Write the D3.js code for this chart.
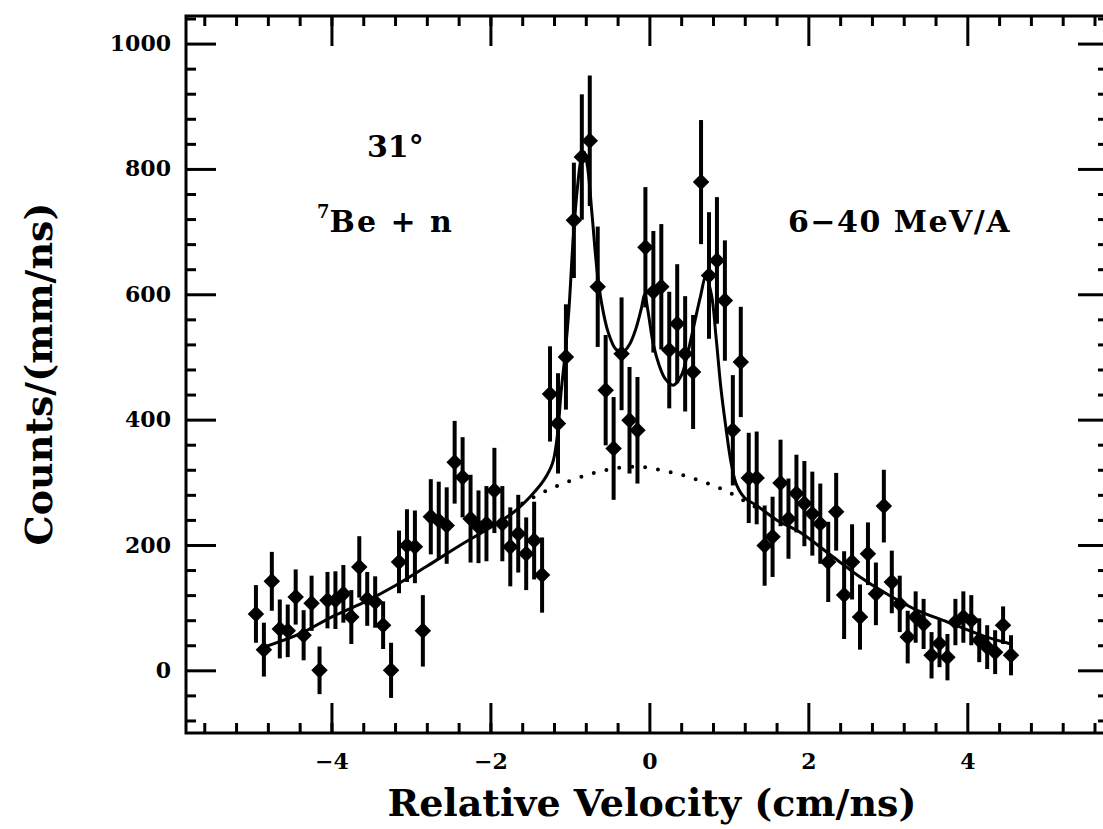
<!DOCTYPE html>
<html lang="en">
  <head>
    <meta charset="UTF-8" />
    <title>7Be + n relative velocity spectrum</title>
    <script src="https://d3js.org/d3.v7.min.js"></script>
    <style>
      body {
        margin: 0;
        background: #fff;
      }
      svg text {
        font-family: 'DejaVu Serif', serif;
        font-weight: bold;
        fill: #000;
      }
    </style>
  </head>
  <body>
    <div id="chart"></div>

    <script>
      // measured points (cm/ns, counts per mm/ns, error)
      const velocity = [
        -4.95, -4.85, -4.75, -4.65, -4.55, -4.45, -4.35, -4.25, -4.15, -4.05,
        -3.95, -3.85, -3.75, -3.65, -3.55, -3.45, -3.35, -3.25, -3.15, -3.05,
        -2.95, -2.85, -2.75, -2.65, -2.55, -2.45, -2.35, -2.25, -2.15, -2.05,
        -1.95, -1.85, -1.75, -1.65, -1.55, -1.45, -1.35, -1.25, -1.15, -1.05,
        -0.95, -0.85, -0.75, -0.65, -0.55, -0.45, -0.35, -0.25, -0.15, -0.05,
        0.05, 0.15, 0.25, 0.35, 0.45, 0.55, 0.65, 0.75, 0.85, 0.95,
        1.05, 1.15, 1.25, 1.35, 1.45, 1.55, 1.65, 1.75, 1.85, 1.95,
        2.05, 2.15, 2.25, 2.35, 2.45, 2.55, 2.65, 2.75, 2.85, 2.95,
        3.05, 3.15, 3.25, 3.35, 3.45, 3.55, 3.65, 3.75, 3.85, 3.95,
        4.05, 4.15, 4.25, 4.35, 4.45, 4.55,
      ];
      const counts = [
        90, 33, 142, 66, 63, 117, 56, 107, 0, 112,
        112, 122, 85, 165, 114, 109, 72, 0, 173, 199,
        197, 63, 245, 239, 231, 332, 308, 242, 229, 234,
        287, 234, 197, 218, 186, 207, 152, 441, 394, 500,
        718, 819, 845, 612, 447, 354, 505, 399, 383, 675,
        604, 612, 511, 553, 505, 476, 779, 630, 654, 590,
        383, 492, 307, 307, 199, 213, 299, 242, 282, 266,
        250, 234, 173, 253, 120, 173, 85, 186, 122, 262,
        141, 106, 53, 85, 74, 24, 43, 21, 77, 85,
        80, 48, 37, 29, 72, 24,
      ];
      const errors = [
        46, 43, 47, 47, 42, 44, 40, 44, 38, 45,
        46, 46, 43, 49, 43, 41, 38, 44, 50, 58,
        58, 57, 60, 62, 61, 66, 64, 70, 58, 60,
        68, 60, 63, 62, 58, 62, 60, 76, 80, 84,
        92, 100, 104, 96, 88, 82, 90, 85, 85, 96,
        97, 100, 93, 95, 92, 91, 99, 101, 101, 96,
        88, 88, 72, 74, 64, 64, 69, 64, 62, 68,
        67, 64, 64, 62, 70, 60, 52, 50, 50, 58,
        50, 45, 42, 41, 40, 37, 38, 37, 37, 41,
        40, 35, 35, 35, 30, 32,
      ];

      // full fit (solid line)
      const fitX = [
        -4.85, -4.4, -4.0, -3.6, -3.2, -2.8, -2.4, -2.0, -1.7, -1.5,
        -1.33, -1.22, -1.16, -1.11, -1.06, -1.01, -0.96, -0.9, -0.86, -0.82,
        -0.78, -0.72, -0.66, -0.6, -0.52, -0.42, -0.33, -0.25, -0.17, -0.1,
        -0.06, -0.02, 0.05, 0.12, 0.2, 0.3, 0.4, 0.48, 0.56, 0.64,
        0.71, 0.78, 0.84, 0.9, 0.96, 1.03, 1.1, 1.2, 1.35, 1.6,
        1.9, 2.3, 2.65, 3.0, 3.35, 3.75, 4.2, 4.55,
      ];
      const fitY = [
        37, 58, 85, 108, 135, 166, 198, 228, 253, 277,
        303, 330, 372, 445, 505, 580, 686, 777, 815, 827,
        805, 725, 640, 585, 540, 512, 508, 520, 545, 578,
        600, 575, 520, 488, 465, 455, 470, 505, 550, 595,
        628, 600, 530, 450, 390, 330, 295, 275, 263, 240,
        220, 182, 149, 121, 97, 77, 55, 42,
      ];

      // background component (dotted line)
      const bgX = [
        -1.6, -1.4, -1.2, -1.0, -0.8, -0.6, -0.4, -0.2, 0.0, 0.2,
        0.4, 0.6, 0.8, 1.0, 1.2, 1.4,
      ];
      const bgY = [
        266, 280, 292, 302, 311, 318, 323, 325, 323, 318,
        312, 304, 295, 284, 270, 256,
      ];

      const xMajor = [-4, -2, 0, 2, 4];
      const yMajor = [0, 200, 400, 600, 800, 1000];

      const svgWidth = 1103;
      const svgHeight = 829;
      const frame = { left: 186, right: 1108, top: 16, bottom: 733 };

      const svg = d3
        .select('#chart')
        .append('svg')
        .attr('width', svgWidth)
        .attr('height', svgHeight);

      const x = d3
        .scaleLinear()
        .domain([-5.83, 5.77])
        .range([frame.left, frame.right]);
      const y = d3
        .scaleLinear()
        .domain([-100, 1044])
        .range([frame.bottom, frame.top]);

      const xMinor = d3.range(-5.6, 5.61, 0.4).filter((v) => Math.abs(v % 2) > 0.01);
      const yMinor = d3.range(-80, 1041, 40).filter((v) => v % 200 !== 0);

      // axes with inward ticks on all four sides
      function drawAxis(axis, pos, size, vals, labels) {
        const g = svg
          .append('g')
          .attr('transform', pos)
          .call(
            axis
              .tickValues(vals)
              .tickSize(-size)
              .tickFormat(labels ? d3.format('d') : ''),
          );
        g.select('.domain').remove();
        g.selectAll('line')
          .attr('stroke', '#000')
          .attr('stroke-width', 3);
        return g;
      }

      const bottom = drawAxis(d3.axisBottom(x), `translate(0,${frame.bottom})`, 30, xMajor, true);
      bottom
        .selectAll('text')
        .attr('y', 36)
        .attr('dy', 0)
        .style('font-size', '22px');
      drawAxis(d3.axisBottom(x), `translate(0,${frame.bottom})`, 10, xMinor, false);
      drawAxis(d3.axisTop(x), `translate(0,${frame.top})`, 30, xMajor, false);
      drawAxis(d3.axisTop(x), `translate(0,${frame.top})`, 10, xMinor, false);

      const left = drawAxis(d3.axisLeft(y), `translate(${frame.left},0)`, 30, yMajor, true);
      left
        .selectAll('text')
        .attr('x', -15)
        .style('font-size', '22px');
      drawAxis(d3.axisLeft(y), `translate(${frame.left},0)`, 10, yMinor, false);
      drawAxis(d3.axisRight(y), `translate(${frame.right},0)`, 30, yMajor, false);
      drawAxis(d3.axisRight(y), `translate(${frame.right},0)`, 10, yMinor, false);

      svg
        .append('rect')
        .attr('x', frame.left)
        .attr('y', frame.top)
        .attr('width', frame.right - frame.left)
        .attr('height', frame.bottom - frame.top)
        .attr('fill', 'none')
        .attr('stroke', '#000')
        .attr('stroke-width', 3);

      // background curve, dotted
      svg
        .append('path')
        .datum(d3.zip(bgX, bgY))
        .attr('fill', 'none')
        .attr('stroke', '#000')
        .attr('stroke-width', 4)
        .attr('stroke-linecap', 'round')
        .attr('stroke-dasharray', '0 13')
        .attr(
          'd',
          d3
            .line()
            .x((d) => x(d[0]))
            .y((d) => y(d[1]))
            .curve(d3.curveCatmullRom),
        );

      // total fit
      svg
        .append('path')
        .datum(d3.zip(fitX, fitY))
        .attr('fill', 'none')
        .attr('stroke', '#000')
        .attr('stroke-width', 3)
        .attr(
          'd',
          d3
            .line()
            .x((d) => x(d[0]))
            .y((d) => y(d[1]))
            .curve(d3.curveCatmullRom.alpha(0.5)),
        );

      const points = velocity.map((v, i) => ({ v: v, c: counts[i], e: errors[i] }));

      svg
        .selectAll('.err')
        .data(points)
        .enter()
        .append('line')
        .attr('class', 'err')
        .attr('x1', (d) => x(d.v))
        .attr('x2', (d) => x(d.v))
        .attr('y1', (d) => y(d.c - d.e))
        .attr('y2', (d) => y(d.c + d.e))
        .attr('stroke', '#000')
        .attr('stroke-width', 4);

      svg
        .selectAll('.pt')
        .data(points)
        .enter()
        .append('path')
        .attr('class', 'pt')
        .attr('d', d3.symbol(d3.symbolSquare, 136))
        .attr('transform', (d) => `translate(${x(d.v)},${y(d.c)}) rotate(45)`)
        .attr('fill', '#000');

      // labels
      svg
        .append('text')
        .attr('x', 367)
        .attr('y', 157)
        .style('font-size', '30px')
        .text('31°');

      const beText = svg
        .append('text')
        .attr('x', 317)
        .attr('y', 232)
        .style('font-size', '30px')
        .style('letter-spacing', '2px');
      beText
        .append('tspan')
        .attr('dy', -14)
        .style('font-size', '18px')
        .style('letter-spacing', '0px')
        .text('7');
      beText.append('tspan').attr('dy', 14).text('Be + n');

      svg
        .append('text')
        .attr('x', 788)
        .attr('y', 232)
        .style('font-size', '30px')
        .style('letter-spacing', '1.5px')
        .text('6−40 MeV/A');

      svg
        .append('text')
        .attr('x', 652)
        .attr('y', 816)
        .attr('text-anchor', 'middle')
        .style('font-size', '38px')
        .text('Relative Velocity (cm/ns)');

      svg
        .append('text')
        .attr('transform', 'translate(52,374) rotate(-90)')
        .attr('text-anchor', 'middle')
        .style('font-size', '38px')
        .text('Counts/(mm/ns)');
    </script>
  </body>
</html>
